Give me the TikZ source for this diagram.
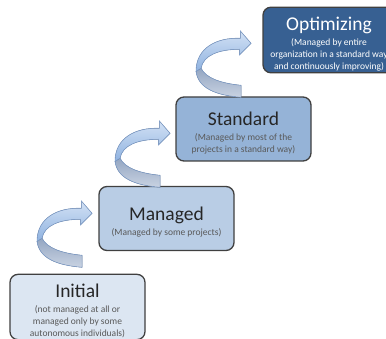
\documentclass[tikz,border=0pt]{standalone}
\usepackage{fontspec}
\setmainfont{Carlito}
\usepackage{tikz}
\usetikzlibrary{shapes,calc}

\definecolor{lvlInitial}{HTML}{DCE6F2}
\definecolor{lvlManaged}{HTML}{B9CDE5}
\definecolor{lvlStandard}{HTML}{95B3D7}
\definecolor{lvlOptim}{HTML}{376092}
\definecolor{boxEdge}{HTML}{404040}
\definecolor{titleGray}{HTML}{262626}
\definecolor{noteGray}{HTML}{595959}
\definecolor{ribbonEdge}{HTML}{7F9DC8}
\definecolor{ribbonTop}{HTML}{D2E1F4}
\definecolor{ribbonBot}{HTML}{8FB2E0}
\definecolor{ribbonBackTop}{HTML}{94A6C2}
\definecolor{ribbonBackBot}{HTML}{C9D3E2}

\newcommand{\lvltitle}{\fontsize{19.5}{22}\selectfont\rule{0pt}{21pt}}
\newcommand{\lvlnote}{\fontsize{9.5}{12}\selectfont}

\tikzset{
  ribbon/.pic={
    % back face of the twist
    \filldraw[draw=ribbonEdge, line width=0.6pt, top color=ribbonBackTop, bottom color=ribbonBackBot]
      (-55,28) .. controls (-53,45) and (-35,52) .. (-10,54) -- (-10,42)
      .. controls (-30,40) and (-45,35) .. (-50,25) -- cycle;
    % front face with the head
    \filldraw[draw=ribbonEdge, line width=0.6pt, top color=ribbonTop, bottom color=ribbonBot]
      (-10.7,-5) .. controls (-35,-6) and (-55,5) .. (-55,28) -- (-50,25)
      .. controls (-48,12) and (-32,6) .. (-11.7,6) -- (-11.7,11.7) -- (0,0)
      -- (-10.7,-12.3) -- cycle;
  }
}

\begin{document}
\begin{tikzpicture}[x=1pt,y=-1pt,
  level/.style={draw=boxEdge, line width=1.3pt, rounded corners=8pt,
    minimum width=135pt, minimum height=64pt, inner sep=2pt,
    align=center, font=\lvlnote, text=noteGray}]
\useasboundingbox (0,0) rectangle (386,339);

\node[level, fill=lvlInitial] (initial) at (77.5,307)
  {\textcolor{titleGray}{\lvltitle Initial}\\[3pt]
   (not managed at all or\\managed only by some\\autonomous individuals)};
\node[level, fill=lvlManaged] (managed) at (166.5,218.5)
  {\textcolor{titleGray}{\lvltitle Managed}\\[3pt]
   (Managed by some projects)};
\node[level, fill=lvlStandard] (standard) at (243.5,129)
  {\textcolor{titleGray}{\lvltitle Standard}\\[3pt]
   (Managed by most of the\\projects in a standard way)};
\node[level, fill=lvlOptim, text=white, minimum width=132pt] (optim) at (329,40)
  {{\lvltitle Optimizing}\\[3pt]
   (Managed by entire\\organization in a standard way\\and continuously improving)};

%% ribbons climbing to the next level
\pic at ($(managed.west)+(-6.3,-5.2)$) {ribbon};
\pic at ($(standard.west)+(-5.3,4.3)$) {ribbon};
\pic at ($(optim.west)+(-11.3,3.3)$) {ribbon};
\end{tikzpicture}
\end{document}
